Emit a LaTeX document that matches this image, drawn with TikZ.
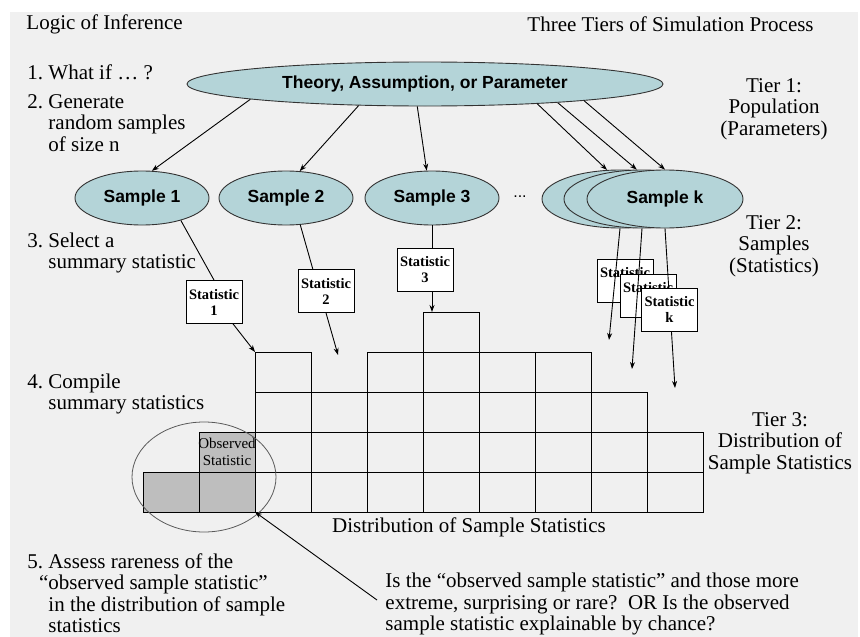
\documentclass[tikz,border=0pt]{standalone}
\usepackage{fontspec}
\setmainfont{Liberation Serif}
\newfontfamily\tierlabelfont{Liberation Sans}
\usetikzlibrary{shapes, positioning, calc, arrows.meta}

\definecolor{bggray}{RGB}{240,240,240}
\definecolor{popteal}{RGB}{180,212,216}
\definecolor{obsgray}{RGB}{190,190,190}
\definecolor{ringgray}{RGB}{90,90,90}

\begin{document}
\begin{tikzpicture}[x=1pt, y=-1pt, line width=0.9pt,
  >={Stealth[length=7pt,width=5pt]},
  txt/.style={font=\fontsize{21}{21.5}\selectfont, inner sep=0pt, align=left, anchor=west},
  tiertxt/.style={font=\fontsize{21}{21.5}\selectfont, inner sep=0pt, align=center},
  pop/.style={draw=black!80, ellipse, fill=popteal, inner sep=0pt, font=\tierlabelfont\bfseries\fontsize{17.5}{19}\selectfont},
  stat/.style={draw, fill=white, inner sep=1pt, minimum width=56pt, minimum height=43pt, align=center, font=\bfseries\fontsize{14.5}{16}\selectfont},
  cell/.style={draw, inner sep=0pt, outer sep=0pt, minimum width=\cellwidth, minimum height=\cellheight}]
  \newcommand\cellwidth{56pt}
  \newcommand\cellheight{40pt}

  \useasboundingbox (0,0) rectangle (860,637);
  \fill[bggray] (10,12) rectangle (858,637);

  % headings
  \node[txt] (logic) at (26,24) {Logic of Inference};
  \node[txt] (tiers) at (527,24) {Three Tiers of Simulation Process};

  % steps of the logic
  \node[txt] (b1) at (48,72) {\llap{1.\ }What if … ?};
  \node[txt] (b2) at (48,123) {\llap{2.\ }Generate\\random samples\\of size n};
  \node[txt] (b3) at (48,253) {\llap{3.\ }Select a\\summary statistic};
  \node[txt] (b4) at (48,394) {\llap{4.\ }Compile\\summary statistics};
  \node[txt] (b5) at (48,593) {\llap{5.\ }Assess rareness of the\\\llap{“}observed sample statistic”\\in the distribution of sample\\statistics};
  \node[txt] (ask) at (385,604) {Is the “observed sample statistic” and those more\\extreme, surprising or rare?\ \ OR Is the observed\\sample statistic explainable by chance?};

  % tiers
  \node[tiertxt] (tier1) at (774,109) {Tier 1:\\Population\\(Parameters)};
  \node[tiertxt] (tier2) at (774,246) {Tier 2:\\Samples\\(Statistics)};
  \node[tiertxt] (tier3) at (780,443) {Tier 3:\\Distribution of\\Sample Statistics};

  % histogram of statistics
  \foreach \h/\shade [count=\col] in {1/obsgray, 2/obsgray, 4/none, 3/none, 4/none, 5/none, 4/none, 4/none, 3/none, 2/none}{
    \foreach \row in {1,...,\h}{
      \node[cell, fill=\shade] (c\col-\row) at ({143+56*(\col-0.5)}, {512-40*(\row-0.5)}) {};
    }
  }
  \node[inner sep=0pt, align=center, font=\fontsize{15}{17}\selectfont] (obs) at (c2-2.center) {Observed\\Statistic};
  \node[draw=ringgray, line width=0.8pt, ellipse, minimum width=144pt, minimum height=110pt] (ring) at (204,477) {};
  \node[txt, anchor=center] (dist) at (469,527) {Distribution of Sample Statistics};

  % population and samples
  \node[pop, minimum width=476pt, minimum height=44pt] (theory) at (425,84) {Theory, Assumption, or Parameter};
  \foreach \x [count=\i] in {142,286,432}
    \node[pop, minimum width=134pt, minimum height=54pt] (s\i) at (\x,198) {Sample \i};
  \node[font=\tierlabelfont\fontsize{16}{18}\selectfont] (dots) at (520,197) {...};
  \node[pop, minimum width=156pt, minimum height=58pt] (sk1) at (620,199) {};
  \node[pop, minimum width=156pt, minimum height=58pt] (sk2) at (642,199) {};
  \node[pop, minimum width=156pt, minimum height=58pt] (sk3) at (665,199) {Sample k};

  \draw[->] (theory.185) -- (s1.70);
  \draw[->] (theory.198) -- (s2.63);
  \draw[->] (theory.251) -- (s3.101);
  \draw[->] (theory.350) -- (sk1.114);
  \draw[->] (theory.352.5) -- (sk2.100);
  \draw[->] (theory.354.5) -- (sk3.90);

  % statistics
  \node[stat] (st1) at (214,302) {Statistic\\1};
  \node[stat] (st2) at (326,291) {Statistic\\2};
  \node[stat] (st3) at (425,270) {Statistic\\3};
  \node[stat] (stk1) at (625,280.5) {Statistic\\\phantom{k}};
  \node[stat] (stk2) at (648,295.5) {Statistic\\\phantom{k}};

  \coordinate (t2) at (338,355);
  \coordinate (tk1) at (609,340);
  \coordinate (tk2) at (632,369);
  \coordinate (tk3) at (675,388);

  \draw (s1.330) -- (st1.north);
  \draw[->] (st1.311) -- (c3-4.north west);
  \draw (s2.298) -- (st2.121);
  \draw[->] (st2.south) -- (t2);
  \draw (s3.south) -- (st3.north -| s3.south);
  \draw[->] (st3.south -| s3.south) -- (c6-5.north -| s3.south);
  \draw[->] (sk1.south) -- (tk1);
  \draw[->] (sk2.south) -- (tk2);
  \draw[->] (sk3.south) -- (tk3);
  \node[stat] (stk3) at (669.5,309.5) {Statistic\\k};

  % rareness question
  \coordinate (q) at (377,600);
  \draw[->] (q) -- (c2-1.south east);
\end{tikzpicture}
\end{document}
